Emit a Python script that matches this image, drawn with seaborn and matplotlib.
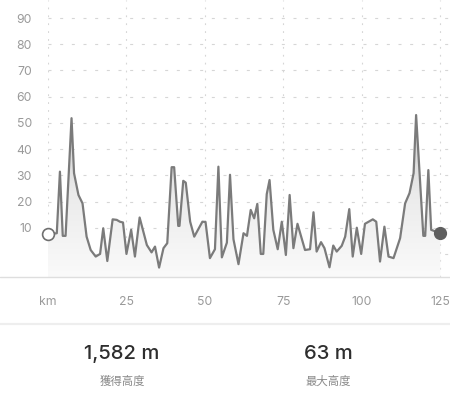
import numpy as np
import pandas as pd
import matplotlib
matplotlib.use("Agg")
import matplotlib.pyplot as plt
from matplotlib.lines import Line2D
from matplotlib.patches import Polygon
from matplotlib.colors import LinearSegmentedColormap
import seaborn as sns

# ---- data ----
km = [0, 2.8, 3.8, 4.7, 5.6, 7.5, 8.3, 9.7, 11.0, 12.3, 13.6, 15.2, 16.6, 17.6, 18.9,
      20.6, 21.9, 22.9, 23.9, 25.0, 26.5, 27.7, 29.2, 31.5, 33.0, 34.1, 35.4, 36.8, 38.0,
      39.4, 40.2, 41.5, 41.9, 43.1, 43.9, 45.3, 46.6, 49.2, 50.2, 51.6, 53.2, 54.3, 55.4,
      57.0, 58.0, 59.1, 60.7, 62.3, 63.4, 64.6, 65.7, 66.7, 67.8, 68.6, 69.7, 70.6, 71.8,
      73.2, 74.5, 75.8, 77.0, 78.2, 79.5, 81.9, 83.5, 84.6, 85.6, 87.0, 88.1, 89.7, 90.9,
      92.0, 93.6, 94.7, 96.0, 97.1, 98.4, 99.8, 101.0, 103.5, 104.6, 105.8, 107.2, 108.5,
      110.1, 112.2, 113.8, 115.2, 116.5, 117.3, 119.6, 120.2, 121.2, 122.1, 125.0]
elev = [7.5, 7.9, 31.4, 6.9, 6.9, 51.8, 30.8, 22.5, 19.3, 6.6, 1.5, -1.0, 0.0, 9.8, -2.7,
        13.2, 13.0, 12.3, 12.0, 0.0, 9.2, -1.0, 13.9, 3.4, 0.6, 2.8, -5.2, 2.2, 4.1,
        33.1, 33.1, 10.7, 10.7, 27.9, 27.2, 12.3, 6.6, 12.3, 12.2, -1.6, 1.8, 33.3, -1.3,
        4.3, 30.2, 5.6, -3.9, 7.9, 6.9, 16.8, 13.6, 19.1, 0.0, 0.0, 22.8, 28.2, 9.2,
        1.8, 12.3, -0.4, 22.5, 2.2, 11.5, 1.5, 1.8, 15.9, 0.9, 4.5, 2.2, -5.1, 3.2,
        0.9, 3.1, 6.6, 17.1, -1.0, 10.0, 0.0, 11.5, 13.2, 12.3, -2.9, 10.4, -1.0,
        -1.6, 6.0, 19.3, 23.2, 30.8, 53.0, 6.9, 6.9, 32.0, 9.2, 7.9]
y_ticks = [10, 20, 30, 40, 50, 60, 70, 80, 90]
x_ticks = [0, 25, 50, 75, 100, 125]
x_labels = ["km", "25", "50", "75", "100", "125"]
stats_values = ["1,582 m", "63 m"]
stats_labels = ["獲得高度", "最大高度"]

sns.set_theme(style="white")
plt.rcParams['font.family'] = ['Inter', 'Noto Sans CJK JP', 'DejaVu Sans']

W, H = 450, 395
fig = plt.figure(figsize=(W / 100, H / 100), dpi=100)
ax_left, ax_bottom = 48 / W, 1 - 277 / H
ax = fig.add_axes([ax_left, ax_bottom, 1 - ax_left, 1 - ax_bottom])

df = pd.DataFrame({"km": km, "elev": elev})
ymin, ymax = -8.8, 96.9

# gridlines
grid_kw = dict(color="#d6d6d6", lw=0.8, zorder=0)
for yv in [0] + y_ticks:
    l = ax.axhline(yv, **grid_kw)
    l.set_dashes((2.7, 7.8))
for xv in x_ticks:
    l = ax.axvline(xv, **grid_kw)
    l.set_dashes((1.6, 5.5))

# gradient fill under curve
poly_xy = [(km[0], ymin)] + list(zip(km, elev)) + [(km[-1], ymin)]
poly = Polygon(poly_xy, closed=True, facecolor="none", edgecolor="none")
ax.add_patch(poly)
grad = np.linspace(0, 1, 256).reshape(-1, 1)
cmap = LinearSegmentedColormap.from_list("g", ["#fafafa", "#ebebeb", "#c8c8c8"])
img = ax.imshow(grad, extent=[km[0], km[-1], ymin, 55], origin="lower",
                aspect="auto", cmap=cmap, zorder=1)
img.set_clip_path(poly)

sns.lineplot(data=df, x="km", y="elev", ax=ax, color="#7b7b7b", lw=1.6,
             sort=False, estimator=None, zorder=3)
ax.plot([km[0]], [elev[0]], marker="o", ms=8.5, mfc="white", mec="#6f6f6f",
        mew=1.2, clip_on=False, zorder=4)
ax.plot([km[-1]], [elev[-1]], marker="o", ms=8.5, mfc="#5f5f5f", mec="#5f5f5f",
        clip_on=False, zorder=4)
ax.set_xlim(0, 128.1)
ax.set_ylim(ymin, ymax)

ax.set_yticks(y_ticks)
ax.set_yticklabels([str(v) for v in y_ticks])
ax.set_xticks(x_ticks)
ax.set_xticklabels(x_labels)
ax.tick_params(axis="y", length=0, pad=11.5, labelsize=8.8, labelcolor="#9a9a9a")
ax.tick_params(axis="x", length=0, pad=14, labelsize=8.8, labelcolor="#9a9a9a")
ax.set_xlabel("")
ax.set_ylabel("")
for s in ax.spines.values():
    s.set_visible(False)

# bottom line and separator
fig.add_artist(Line2D([0, 1], [ax_bottom, ax_bottom], transform=fig.transFigure,
                      color="#dedede", lw=1.0))
sep = 1 - 324 / H
fig.add_artist(Line2D([0, 1], [sep, sep], transform=fig.transFigure,
                      color="#eeeeee", lw=1.6))

# stats
for xc, v, lab in zip([122, 328], stats_values, stats_labels):
    fig.text(xc / W, 1 - 354 / H, v, ha="center", va="center", fontsize=14.5,
             color="#2e2e2e", fontweight="medium")
    fig.text(xc / W, 1 - 381 / H, lab, ha="center", va="center", fontsize=8.2,
             color="#8a8a8a", family=['Noto Sans CJK JP', 'DejaVu Sans'])

fig.savefig("out.png", dpi=100)
